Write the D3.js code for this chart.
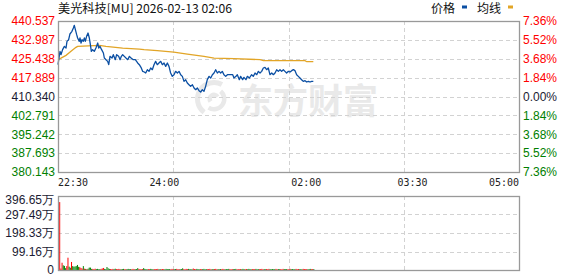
<!DOCTYPE html>
<html>
<head>
<meta charset="utf-8">
<script src="https://cdn.jsdelivr.net/npm/d3@7"></script>
<style>
body { margin: 0; background: #fff; }
svg { display: block; font-family: "Liberation Sans", Arial, sans-serif; }
</style>
</head>
<body>
<svg></svg>
<script>
const title = '美光科技[MU] 2026-02-13 02:06'
const legendNames = ['价格', '均线']
const timeLabels = ['22:30', '24:00', '02:00', '03:30', '05:00']
const timeLabelMinutes = [0, 90, 210, 300, 390]   // minutes after 22:30
const priceTicks = [440.537, 432.987, 425.438, 417.889, 410.340, 402.791, 395.242, 387.693, 380.143]
const pctTicks = ['7.36%', '5.52%', '3.68%', '1.84%', '0.00%', '1.84%', '3.68%', '5.52%', '7.36%']
const volTicks = [396.65, 297.49, 198.33, 99.16, 0]

// price line, minutes after 22:30
const priceMinutes = [0, 1.7, 2.5, 3.9, 5.4, 6.8, 7.6, 9.0, 10.1, 11.8, 13.0, 13.8, 14.7, 15.8, 16.6, 18.0, 18.6, 19.5, 20.3, 21.4,
    22.3, 23.1, 24.2, 25.4, 26.5, 27.4, 28.2, 29.3, 30.7, 32.1, 33.6, 34.4, 35.5, 36.9, 38.4, 39.2, 40.6, 42.0, 42.9, 44.0,
    45.7, 46.8, 48.5, 49.6, 51.3, 52.5, 53.6, 54.7, 56.1, 57.5, 59.0, 60.4, 61.8, 63.7, 65.4, 67.4, 68.8, 70.2, 71.6, 73.0,
    74.2, 75.6, 77.0, 78.4, 79.8, 81.2, 82.6, 84.0, 85.4, 86.9, 88.3, 89.7, 91.1, 92.5, 93.9, 95.3, 96.7, 98.1, 99.5, 101.0,
    102.4, 103.8, 105.2, 106.6, 108.0, 109.4, 110.8, 112.2, 113.7, 115.1, 116.5, 117.9, 119.3, 120.7, 122.1, 123.5, 124.9, 126.3, 127.8, 129.2,
    130.6, 132.0, 133.4, 134.8, 136.2, 137.6, 139.0, 140.4, 141.9, 143.3, 144.7,
    147.8, 148.9, 150.6, 151.7, 153.4, 154.5, 156.2, 157.3, 159.0, 160.2, 161.9, 163.8, 165.2, 166.7, 168.1, 169.5, 170.9, 172.3, 173.7, 175.1,
    176.5, 177.9, 179.3, 180.8, 182.2, 183.6, 185.0, 186.4, 187.8, 189.2, 190.6, 192.0, 193.4, 194.9, 196.3, 197.7, 199.1, 200.5, 201.9, 203.3,
    204.7, 206.1, 207.5, 209.0, 210.4, 211.8, 213.2, 214.6, 216.0]
const prices = [423.07, 428.4, 427.07, 429.07, 430.4, 429.74, 432.4, 433.07, 435.34, 436.4, 437.74, 438.8, 437.07, 435.07, 433.74, 432.4, 433.74, 431.74, 433.07, 432.4,
    433.74, 432.4, 434.4, 435.74, 433.74, 431.07, 428.4, 429.07, 428.4, 429.74, 431.74, 429.74, 430.4, 429.07, 427.74, 425.74, 425.07, 424.4, 423.07, 426.4,
    425.74, 427.07, 425.07, 427.07, 426.4, 425.07, 426.4, 427.07, 426.4, 425.74, 425.07, 426.4, 425.74, 425.07, 425.07, 423.74, 423.07, 422.0, 420.4, 420.14,
    419.74, 421.07, 420.4, 421.74, 421.07, 423.07, 424.4, 423.07, 423.74, 424.4, 423.07, 423.74, 422.4, 423.74, 422.4, 419.74, 418.4, 419.07, 420.4, 419.74,
    420.4, 419.07, 418.4, 416.4, 417.07, 415.74, 415.07, 414.4, 415.07, 413.74, 413.07, 413.74, 412.67, 412.14, 413.07, 412.4, 414.4, 417.07, 418.4, 417.74,
    419.07, 419.74, 421.07, 419.74, 420.4, 419.74, 420.4, 419.07, 418.4, 419.07, 419.07,
    419.07, 417.74, 418.4, 419.07, 417.07, 418.4, 417.07, 418.0, 417.07, 418.4, 417.74, 419.07, 418.4, 419.74, 419.07, 420.4, 419.74, 420.4, 421.74, 422.0,
    421.07, 421.74, 419.07, 419.74, 419.07, 419.74, 421.07, 420.4, 421.07, 420.4, 421.07, 420.4, 419.74, 420.4, 420.14, 420.67, 421.07, 420.67, 419.07, 418.4,
    417.74, 417.07, 416.4, 416.67, 416.14, 416.4, 416.14, 416.4, 416.4]

// average price line
const avgMinutes = [0, 2.5, 6.8, 11, 15.2, 16.6, 35, 40.6, 54.7, 68.8, 72.8, 84, 98, 109.4, 123.5, 132, 149, 171, 173.7, 209, 210.4, 216]
const avgPrices = [425.1, 425.7, 426.8, 428.4, 430.0, 430.4, 430.8, 430.4, 429.7, 429.3, 429.05, 428.66, 428.1, 427.3, 426.4, 425.7, 425.5, 425.06, 424.66, 424.66, 424.26, 424.26]

// volume per minute (万), r = up, g = down
const volumes = [364, 8, 39, 25, 22, 10, 21, 66, 18, 12, 43, 21, 18, 19, 21, 27, 17, 15, 11, 8,
    21, 7, 6, 5, 7, 13, 13, 6,
    6, 5, 7, 5, 6, 4, 5, 6, 8, 11, 6, 5, 16, 9, 6, 5, 4, 6, 5, 7,
    5, 4, 6, 5, 4, 5, 6, 4, 5, 5, 6, 4, 5, 4, 6, 5, 4, 5, 10, 6,
    5, 4, 5, 10, 6, 5, 4, 5, 4, 6, 5, 4, 5, 4, 5, 6, 4, 5, 4, 5,
    5, 4, 6, 5, 4, 5, 4, 6, 5, 4, 5, 6, 4, 5, 4, 5, 9, 5, 4, 6,
    5, 6, 4, 5, 4, 8, 5, 4, 6, 5, 4, 5, 4, 5, 6, 4, 5, 4, 5, 6,
    4, 5, 4, 5, 6, 4, 5, 4, 5, 4, 6, 5, 4, 5, 4, 6, 5, 4, 5, 4,
    5, 6, 4, 5, 4, 5, 4, 6, 5, 4, 5, 4, 6, 5, 4, 5, 4, 5, 6, 4,
    5, 4, 5, 6, 4, 5, 4, 5, 4, 6, 5, 4, 5, 4, 5, 6, 4, 5, 4, 5,
    4, 6, 5, 4, 5, 4, 5, 6, 4, 5, 4, 5, 6, 4, 5, 4, 5, 4, 6, 5,
    4, 5, 4, 5, 6, 4, 5, 5]
const volumeDirs = 'rrrgggrrggrggggggrrrgrgrgggg' +
    'rrrggggrrrgggggrrrggrrrrgggrrggggrrrgggrrrrggggrrgggrrrrggrrrgggggrrrggrrrgggrrrrggggrrrgggrrgggg' +
    'rrrrggrrrgggrrrggggrrrgggrrrrgggrrggggrrrgggrrrrggrrrgggggrrggrrrgggrrrggggrrrgggrrrrgggrrgg'

const w = 578
const h = 276
const plotL = 58
const plotR = 519
const priceT = 21
const priceB = 172
const volT = 196
const volB = 270

const red = '#ff0000'
const green = '#008000'
const blue = '#0b4fa3'
const gold = '#e2a527'

let svg = d3.select('svg').attr('width', w).attr('height', h)

let xScale = d3.scaleLinear().domain([0, 390]).range([plotL, plotR])
let yScale = d3.scaleLinear().domain([priceTicks[8], priceTicks[0]]).range([priceB, priceT])
let volScale = d3.scaleLinear().domain([0, volTicks[0]]).range([volB, volT])

let labelColor = (i) => i < 4 ? red : (i === 4 ? '#1b1b33' : green)

let drawWatermark = () => {
    let g = svg.append('g').attr('fill', '#e9e9e9')
    let arc = d3.arc()
    let logo = g.append('g').attr('transform', 'translate(214, 99)')
    let pieces = [[14, 19, -2.5, 0.5], [8, 12.5, 0.7, 3.7], [2, 6.5, -2.2, 1.0]]
    pieces.forEach((p) => {
        logo.append('path').attr('d', arc({ innerRadius: p[0], outerRadius: p[1], startAngle: p[2], endAngle: p[3] }))
    })
    g.append('text')
     .attr('x', 238)
     .attr('y', 114)
     .attr('font-family', '"Noto Sans CJK SC"')
     .attr('font-weight', 'bold')
     .attr('font-size', '35px')
     .text('东方财富')
}

let drawFrames = () => {
    let grid = svg.append('g')
                  .attr('stroke', '#d2d2d2')
                  .attr('stroke-dasharray', '4,3')
                  .attr('stroke-width', 1)
    let quarters = [1, 2, 3].map((k) => xScale(390 * k / 4))

    priceTicks.slice(1, 8).forEach((t) => {
        let y = Math.round(yScale(t)) + 0.5
        grid.append('line').attr('x1', plotL).attr('x2', plotR).attr('y1', y).attr('y2', y)
    })
    volTicks.slice(1, 4).forEach((t) => {
        let y = Math.round(volScale(t)) + 0.5
        grid.append('line').attr('x1', plotL).attr('x2', plotR).attr('y1', y).attr('y2', y)
    })
    quarters.forEach((x) => {
        let xx = Math.round(x) + 0.5
        grid.append('line').attr('x1', xx).attr('x2', xx).attr('y1', priceT).attr('y2', priceB)
        grid.append('line').attr('x1', xx).attr('x2', xx).attr('y1', volT).attr('y2', volB)
    })
}

let drawBorders = () => {
    let b = svg.append('g').attr('fill', 'none').attr('stroke', '#999').attr('stroke-width', 1.3)
    b.append('rect').attr('x', plotL + 0.5).attr('y', priceT + 0.5).attr('width', plotR - plotL).attr('height', priceB - priceT)
    b.append('rect').attr('x', plotL + 0.5).attr('y', volT + 0.5).attr('width', plotR - plotL).attr('height', volB - volT)
}

let drawLines = () => {
    let line = d3.line()
                 .x((d) => xScale(d[0]))
                 .y((d) => yScale(d[1]))

    svg.append('path')
       .datum(avgMinutes.map((m, i) => [m, avgPrices[i]]))
       .attr('d', line)
       .attr('fill', 'none')
       .attr('stroke', gold)
       .attr('stroke-width', 1.3)

    svg.append('path')
       .datum(priceMinutes.map((m, i) => [m, prices[i]]))
       .attr('d', line)
       .attr('fill', 'none')
       .attr('stroke', blue)
       .attr('stroke-width', 1.3)
       .attr('stroke-linejoin', 'round')
}

let drawVolumes = () => {
    svg.append('g')
       .selectAll('rect')
       .data(volumes)
       .enter()
       .append('rect')
       .attr('x', (d, i) => xScale(i) + 1.2)
       .attr('width', 1)
       .attr('y', (d) => volScale(d))
       .attr('height', (d) => volB - volScale(d))
       .attr('fill', (d, i) => (volumeDirs[i] || 'g') === 'r' ? red : green)
}

let drawLabels = () => {
    let left = svg.append('g').attr('font-size', '12px').attr('text-anchor', 'end')
    priceTicks.forEach((t, i) => {
        left.append('text')
            .attr('x', 55)
            .attr('y', yScale(t))
            .attr('dy', '0.36em')
            .attr('fill', labelColor(i))
            .text(t.toFixed(3))
    })

    let right = svg.append('g').attr('font-size', '12px')
    pctTicks.forEach((t, i) => {
        right.append('text')
             .attr('x', 523)
             .attr('y', yScale(priceTicks[i]))
             .attr('dy', '0.36em')
             .attr('fill', labelColor(i))
             .text(t)
    })

    let vol = svg.append('g').attr('font-size', '12px').attr('text-anchor', 'end').attr('fill', '#1b1b33')
    volTicks.forEach((t, i) => {
        vol.append('text')
           .attr('x', 54)
           .attr('y', Math.max(volScale(t), volT + 4))
           .attr('dy', '0.36em')
           .text(t === 0 ? '0' : t.toFixed(2) + '万')
    })

    let times = svg.append('g')
                   .attr('font-size', '11px')
                   .attr('font-family', '"DejaVu Sans Mono", monospace')
                   .attr('fill', '#222')
    timeLabels.forEach((t, i) => {
        let anchor = i === 0 ? 'start' : (i === timeLabels.length - 1 ? 'end' : 'middle')
        times.append('text')
             .attr('x', xScale(timeLabelMinutes[i]))
             .attr('y', 186)
             .attr('text-anchor', anchor)
             .attr('textLength', 30)
             .attr('lengthAdjust', 'spacingAndGlyphs')
             .text(t)
    })
}

let drawHeader = () => {
    svg.append('text')
       .attr('x', plotL)
       .attr('y', 13)
       .attr('font-family', '"Noto Sans CJK SC", sans-serif')
       .attr('font-size', '12px')
       .attr('fill', '#111')
       .attr('textLength', 174)
       .attr('lengthAdjust', 'spacingAndGlyphs')
       .text(title)

    let legend = svg.append('g')
                    .attr('font-family', '"Noto Sans CJK SC", sans-serif')
                    .attr('font-size', '12px')
                    .attr('fill', '#111')
    let legendX = [431, 477]
    let legendColors = [blue, gold]
    legendNames.forEach((n, i) => {
        legend.append('text').attr('x', legendX[i]).attr('y', 13).text(n)
        legend.append('rect')
              .attr('x', legendX[i] + 31)
              .attr('y', 5.5)
              .attr('width', 5)
              .attr('height', 3)
              .attr('fill', legendColors[i])
    })
}

drawWatermark()
drawFrames()
drawVolumes()
drawLines()
drawBorders()
drawLabels()
drawHeader()
</script>
</body>
</html>
